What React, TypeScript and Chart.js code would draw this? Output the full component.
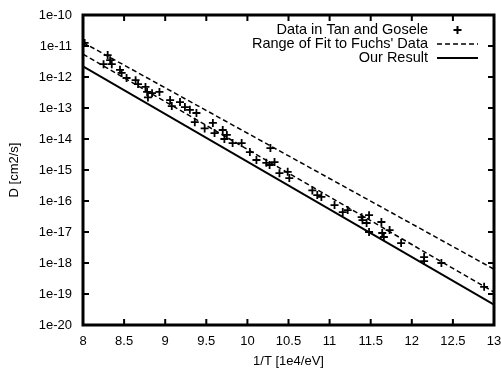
import React, { useEffect, useRef } from "react";
import { Chart, registerables } from "chart.js";

Chart.register(...registerables);

// 1/T values [1e4/eV] and D values [cm2/s] of the Tan and Gosele data
const dataX = [
  8.02, 8.3, 8.33, 8.25, 8.35, 8.45, 8.47, 8.53, 8.64, 8.67, 8.76, 8.78, 8.79, 8.84, 8.93,
  9.06, 9.08, 9.18, 9.24, 9.3, 9.38, 9.36, 9.48, 9.58, 9.6, 9.7, 9.75, 9.72, 9.82, 9.93,
  10.03, 10.11, 10.28, 10.23, 10.27, 10.33, 10.39, 10.49, 10.51, 10.79, 10.85, 10.9,
  11.06, 11.16, 11.22, 11.39, 11.4, 11.45, 11.48, 11.48, 11.63, 11.64, 11.66, 11.73,
  11.87, 12.15, 12.15, 12.36, 12.88,
];
const dataY = [
  1.26e-11, 5.1e-12, 3.5e-12, 2.6e-12, 2.6e-12, 1.7e-12, 1.35e-12, 9.3e-13, 7.9e-13, 5.9e-13,
  4.8e-13, 3.3e-13, 2.2e-13, 3.0e-13, 3.3e-13, 1.8e-13, 1.15e-13, 1.55e-13, 1.07e-13, 8.7e-14,
  6.9e-14, 3.5e-14, 2.2e-14, 3.3e-14, 1.55e-14, 1.95e-14, 1.35e-14, 1.0e-14, 7.4e-15, 7.4e-15,
  3.8e-15, 2.1e-15, 5.1e-15, 1.7e-15, 1.45e-15, 1.8e-15, 7.9e-16, 8.7e-16, 5.5e-16, 2.2e-16,
  1.55e-16, 1.35e-16, 7.4e-17, 4.4e-17, 5.1e-17, 3.0e-17, 2.4e-17, 1.95e-17, 3.5e-17, 1.0e-17,
  2.1e-17, 9.3e-18, 6.9e-18, 1.15e-17, 4.4e-18, 1.55e-18, 1.15e-18, 1.0e-18, 1.7e-19,
];

// Line end points [1/T, D]
const fitUpperX = [8, 13];
const fitUpperY = [1.3e-11, 6.3e-19];
const fitLowerX = [8, 13];
const fitLowerY = [5.5e-12, 1.15e-19];
const resultX = [8, 13];
const resultY = [2.2e-12, 4.5e-20];

const xTicks = [8, 8.5, 9, 9.5, 10, 10.5, 11, 11.5, 12, 12.5, 13];
const yTicks = [1e-20, 1e-19, 1e-18, 1e-17, 1e-16, 1e-15, 1e-14, 1e-13, 1e-12, 1e-11, 1e-10];

const labels = ["Data in Tan and Gosele", "Range of Fit to Fuchs' Data", "Our Result"];

const FONT = "'Liberation Sans', Arial, Helvetica, sans-serif";

const zip = (xs: number[], ys: number[]) => xs.map((x, i) => ({ x, y: ys[i] }));

const framePlugin = {
  id: "frame",
  afterDraw(chart: any) {
    const { ctx, chartArea: a, scales } = chart;
    const xs = scales.x;
    const ys = scales.y;
    ctx.save();
    ctx.strokeStyle = "#000";
    ctx.lineWidth = 2;
    const tl = 6;
    ctx.beginPath();
    xs.ticks.forEach((t: any) => {
      const px = xs.getPixelForValue(t.value);
      ctx.moveTo(px, a.bottom);
      ctx.lineTo(px, a.bottom - tl);
      ctx.moveTo(px, a.top);
      ctx.lineTo(px, a.top + tl);
    });
    ys.ticks.forEach((t: any) => {
      const py = ys.getPixelForValue(t.value);
      ctx.moveTo(a.left, py);
      ctx.lineTo(a.left + tl, py);
      ctx.moveTo(a.right, py);
      ctx.lineTo(a.right - tl, py);
    });
    ctx.stroke();
    ctx.lineWidth = 3;
    ctx.strokeRect(a.left, a.top, a.right - a.left, a.bottom - a.top);

    // legend
    ctx.font = `14.5px ${FONT}`;
    ctx.fillStyle = "#000";
    ctx.textAlign = "right";
    ctx.textBaseline = "middle";
    const textRight = 428;
    const sx0 = 437;
    const sx1 = 478;
    const rows = [30, 44, 58];
    const legendSets = chart.data.datasets.filter((d: any) => d.inLegend);
    legendSets.forEach((d: any, i: number) => {
      const y = rows[i];
      ctx.fillText(d.label, textRight, y);
      ctx.strokeStyle = "#000";
      if (d.showLine) {
        ctx.lineWidth = d.borderWidth;
        ctx.setLineDash(d.borderDash || []);
        ctx.beginPath();
        ctx.moveTo(sx0, y);
        ctx.lineTo(sx1, y);
        ctx.stroke();
        ctx.setLineDash([]);
      } else {
        const cx = (sx0 + sx1) / 2;
        ctx.lineWidth = 2;
        ctx.beginPath();
        ctx.moveTo(cx - 4, y);
        ctx.lineTo(cx + 4, y);
        ctx.moveTo(cx, y - 4);
        ctx.lineTo(cx, y + 4);
        ctx.stroke();
      }
    });
    ctx.restore();
  },
};

export default function App() {
  const ref = useRef<HTMLCanvasElement | null>(null);
  useEffect(() => {
    document.body.style.margin = "0";
    const canvas = ref.current;
    if (!canvas) return;
    const chart = new Chart(canvas, {
      type: "scatter",
      data: {
        datasets: [
          {
            label: labels[0],
            inLegend: true,
            data: zip(dataX, dataY),
            showLine: false,
            pointStyle: "cross",
            pointRadius: 4,
            borderColor: "#000",
            backgroundColor: "#000",
            borderWidth: 1.8,
          } as any,
          {
            label: labels[1],
            inLegend: true,
            data: zip(fitUpperX, fitUpperY),
            showLine: true,
            pointRadius: 0,
            borderColor: "#000",
            borderWidth: 1.5,
            borderDash: [5, 3],
          } as any,
          {
            label: labels[1],
            inLegend: false,
            data: zip(fitLowerX, fitLowerY),
            showLine: true,
            pointRadius: 0,
            borderColor: "#000",
            borderWidth: 1.5,
            borderDash: [5, 3],
          } as any,
          {
            label: labels[2],
            inLegend: true,
            data: zip(resultX, resultY),
            showLine: true,
            pointRadius: 0,
            borderColor: "#000",
            borderWidth: 2,
          } as any,
        ],
      },
      options: {
        animation: false,
        responsive: false,
        layout: { padding: { left: 0, right: 7, top: 15, bottom: 0 } },
        plugins: { legend: { display: false }, tooltip: { enabled: false } },
        scales: {
          x: {
            type: "linear",
            min: 8,
            max: 13,
            grid: { display: false, drawTicks: false },
            border: { display: false },
            afterBuildTicks: (s: any) => {
              s.ticks = xTicks.map((v) => ({ value: v }));
            },
            afterFit: (s: any) => {
              s.height = 43;
              s.paddingLeft = 0;
              s.paddingRight = 0;
            },
            ticks: {
              color: "#000",
              padding: 9,
              maxRotation: 0,
              autoSkip: false,
              font: { family: FONT, size: 13 },
              callback: (v: any) => String(v),
            },
            title: {
              display: true,
              text: "1/T [1e4/eV]",
              color: "#000",
              padding: { top: 0, bottom: 0 },
              font: { family: FONT, size: 13, lineHeight: 1 },
            },
          },
          y: {
            type: "logarithmic",
            min: 1e-20,
            max: 1e-10,
            grid: { display: false, drawTicks: false },
            border: { display: false },
            afterBuildTicks: (s: any) => {
              s.ticks = yTicks.map((v) => ({ value: v }));
            },
            afterFit: (s: any) => {
              s.width = 83;
              s.paddingTop = 0;
              s.paddingBottom = 0;
            },
            ticks: {
              color: "#000",
              padding: 11,
              autoSkip: false,
              font: { family: FONT, size: 13 },
              callback: (v: any) => `1e${Math.round(Math.log10(Number(v)))}`,
            },
            title: {
              display: true,
              text: "D [cm2/s]",
              color: "#000",
              padding: { top: 7.5, bottom: 0 },
              font: { family: FONT, size: 13, lineHeight: 1 },
            },
          },
        },
      },
      plugins: [framePlugin],
    });
    return () => chart.destroy();
  }, []);
  return (
    <div style={{ position: "absolute", left: 0, top: 0, width: 501, height: 368, background: "#fff" }}>
      <canvas ref={ref} width={501} height={368} />
    </div>
  );
}
